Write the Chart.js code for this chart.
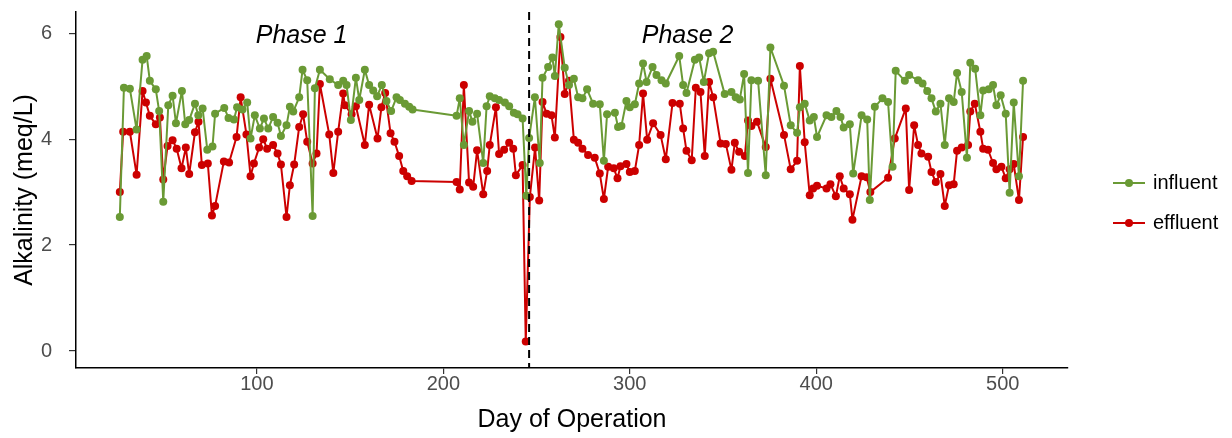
<!DOCTYPE html>
<html>
<head>
<meta charset="utf-8">
<script src="https://cdn.jsdelivr.net/npm/chart.js@4/dist/chart.umd.min.js"></script>
<style>
  html, body { margin: 0; padding: 0; background: #fff; }
  #wrap { width: 1232px; height: 438px; }
</style>
</head>
<body>
<div id="wrap"><canvas id="chart" width="1232" height="438"></canvas></div>
<script>
// values (day, meq/L)
const influentDays = [
  26.5, 28.7, 31.9, 35.5, 38.7, 40.9, 42.6, 45.8, 47.6, 49.8, 52.5, 54.8, 56.6, 59.8, 61.6, 63.7,
  66.8, 68.6, 70.9, 73.4, 76.2, 77.6, 82.5, 84.8, 87.7, 89.4, 92.3, 94.8, 96.6, 98.9, 101.6, 103.8,
  106.1, 108.7, 111.1, 112.9, 115.9, 117.7, 119.5, 122.7, 124.5, 127, 129.9, 131.1, 133.8, 139.1,
  143.6, 146.3, 148.1, 150.4, 153.1, 154.9, 157.9, 160.2, 162.4, 164.5, 167, 169.5, 172, 174.9,
  176.7, 179.4, 181.7, 183.5, 207.1, 208.8, 211, 213.8, 215.6, 218.1, 221.4, 223.2, 224.9, 227.6,
  229.9, 233, 235.3, 237.8, 239.8, 242.5, 244.5, 246, 249.1, 251.7, 253.2, 256.2, 258.5, 259.8,
  261.9, 265.1, 267.4, 270, 272.3, 274.6, 277.1, 280.3, 283.9, 286.1, 287.8, 292, 293.7, 295.5,
  298.2, 300, 302.7, 305, 307.1, 309, 312.2, 314.3, 317, 319.3, 326.5, 328.6, 330.4, 334.9, 337.2,
  339.7, 342.5, 344.7, 350.9, 354.5, 356.8, 359, 361.3, 363.4, 365.2, 368.8, 372.9, 375.4, 382.7,
  386.3, 389.7, 391.2, 393.8, 396.5, 398.7, 400.4, 405.5, 408.1, 410.8, 413, 414.7, 418, 419.8,
  424.3, 427.3, 428.7, 431.4, 435.5, 438.5, 440.9, 442.6, 447.5, 449.8, 454.6, 457, 459.5, 461.8,
  464.1, 466.6, 468.9, 471.2, 473.7, 475.5, 478, 480.8, 482.6, 485.2, 488, 489.5, 492.5, 494.8,
  496.6, 498.9, 501.6, 503.7, 505.9, 508.7, 510.9
];
const influentVals = [
  2.53, 4.97, 4.95, 4.18, 5.5, 5.57, 5.1, 4.94, 4.53, 2.82, 4.64, 4.82, 4.3, 4.91, 4.28, 4.36,
  4.67, 4.45, 4.58, 3.8, 3.86, 4.48, 4.59, 4.4, 4.37, 4.6, 4.56, 4.69, 4.01, 4.45, 4.2, 4.39,
  4.2, 4.42, 4.31, 4.06, 4.26, 4.61, 4.52, 4.79, 5.31, 5.11, 2.55, 4.96, 5.31, 5.13,
  5.02, 5.1, 5.02, 4.36, 5.16, 4.74, 5.31, 5.02, 4.92, 4.81, 5.02, 4.72, 4.53, 4.79,
  4.74, 4.67, 4.61, 4.56, 4.44, 4.77, 3.89, 4.53, 4.33, 4.48, 3.55, 4.62, 4.81, 4.77,
  4.74, 4.69, 4.62, 4.5, 4.47, 4.39, 2.93, 4.02, 4.79, 3.55, 5.16, 5.36, 5.54, 5.19,
  6.17, 5.35, 5.02, 5.14, 4.79, 4.77, 4.94, 4.67, 4.66, 3.59, 4.47, 4.5, 4.23, 4.25,
  4.72, 4.6, 4.66, 5.05, 5.43, 5.08, 5.36, 5.21, 5.11, 5.05, 5.57, 5.02, 4.87, 5.5, 5.54,
  5.08, 5.62, 5.65, 4.85, 4.89, 4.79, 4.75, 5.23, 3.36, 5.11, 5.1, 3.32, 5.73, 5.01,
  4.26, 4.12, 4.6, 4.67, 4.35, 4.42, 4.04, 4.45, 4.42, 4.53, 4.42, 4.22, 4.28, 3.35,
  4.45, 4.37, 2.85, 4.61, 4.77, 4.7, 3.48, 5.29, 5.1, 5.21, 5.11, 5.05, 4.91, 4.77,
  4.52, 4.67, 3.89, 4.77, 4.7, 5.25, 4.89, 3.65, 5.44, 5.33, 4.45, 4.92, 4.94, 5.02,
  4.64, 4.83, 4.48, 2.99, 4.69, 3.3, 5.1
];

const effluentDays = [
  26.5, 28.3, 31.9, 35.5, 38.7, 40.5, 42.6, 45.8, 48, 49.8, 52.1, 54.8, 57, 59.6, 61.9, 63.7,
  66.8, 68.7, 70.5, 73.7, 75.9, 77.6, 82.3, 85.1, 89.1, 91.3, 94.4, 96.6, 98.4, 101.2, 103.4,
  105.5, 108.7, 111.1, 112.9, 115.9, 117.7, 120, 122.7, 124.8, 127, 129.9, 132, 133.8, 138.8,
  141, 143.6, 146.3, 147.2, 150.8, 153.1, 157.9, 160.2, 164.7, 166.8, 168.8, 171.7, 173.8,
  176.3, 178.5, 180.6, 183, 207.1, 208.8, 211, 213.8, 216, 218.1, 221.4, 223.5, 224.9, 228.2,
  229.9, 232.6, 235.3, 237.5, 238.9, 242.5, 244.2, 246.4, 249.2, 251.4, 253.2, 255.4, 258,
  259.8, 262.8, 265.1, 267.4, 270, 272.3, 274.6, 277.6, 281.2, 283.9, 286.1, 288.4, 291.4,
  293.4, 295, 298.2, 300, 302.7, 305, 307.1, 309.3, 312.5, 316.5, 319.3, 322.9, 326.8, 328.6,
  330.4, 333.2, 335.4, 337.9, 340.2, 342.5, 344.7, 348.7, 351.5, 354.5, 356.3, 358.6, 361.7,
  363.4, 365.2, 368.2, 372.9, 375.4, 382.7, 386.3, 389.7, 391.2, 393.8, 396.5, 398.3, 400.4,
  405.5, 407.6, 410.5, 412.6, 414.7, 418, 419.4, 424.3, 427, 429, 438.5, 442.1, 448, 449.8,
  452.5, 454.6, 456.4, 460, 461.8, 464.1, 466.6, 468.9, 471.2, 473.7, 475.5, 478, 481.4,
  482.6, 485, 488, 489.5, 492.1, 494.8, 496.6, 499.3, 501.6, 503.7, 505.9, 508.7, 510.9
];
const effluentVals = [
  3.0, 4.14, 4.14, 3.33, 4.91, 4.69, 4.44, 4.28, 4.41, 3.24, 3.87, 3.98, 3.82, 3.45, 3.84, 3.34,
  4.13, 4.33, 3.51, 3.54, 2.56, 2.74, 3.58, 3.56, 4.04, 4.79, 4.09, 3.3, 3.54, 3.84, 4.0,
  3.82, 3.89, 3.73, 3.52, 2.53, 3.13, 3.52, 4.23, 4.47, 3.95, 3.54, 3.73, 5.04, 4.09,
  3.36, 4.14, 4.86, 4.64, 4.47, 4.62, 3.89, 4.65, 4.01, 4.6, 4.87, 4.11, 3.95,
  3.68, 3.4, 3.3, 3.21, 3.19, 3.05, 5.02, 3.18, 3.1, 3.79, 2.96, 3.4, 3.89, 4.6,
  3.72, 3.8, 3.93, 3.82, 3.32, 3.51, 0.18, 2.91, 3.84, 2.84, 4.7, 4.48, 4.45,
  4.03, 5.93, 4.85, 5.1, 3.99, 3.93, 3.82, 3.7, 3.65, 3.35, 2.87, 3.48, 3.45,
  3.26, 3.49, 3.53, 3.38, 3.4, 3.89, 4.86, 3.99, 4.3, 4.08, 3.62, 4.68, 4.67, 4.2,
  3.78, 3.6, 4.97, 4.89, 3.68, 5.08, 4.79, 3.92, 3.91, 3.42, 3.93, 3.76, 3.68,
  4.35, 4.25, 4.33, 3.85, 5.14, 4.08, 3.43, 3.59, 5.38, 3.94, 2.94, 3.07, 3.12,
  3.07, 3.15, 2.92, 3.3, 3.07, 2.96, 2.48, 3.3, 3.28, 3.0, 3.27, 4.01, 4.58, 3.04,
  4.26, 3.89, 3.73, 3.67, 3.38, 3.19, 3.34, 2.74, 3.13, 3.15, 3.78, 3.84, 3.89,
  4.52, 4.67, 4.14, 3.82, 3.8, 3.55, 3.43, 3.48, 3.26, 3.43, 3.53, 2.85, 4.04
];

const xTicks = [100, 200, 300, 400, 500];
const yTicks = [0, 2, 4, 6];
const phaseBreakDay = 246;
const phaseLabels = ['Phase 1', 'Phase 2'];
const phaseLabelDays = [124, 331];
const seriesNames = ['influent', 'effluent'];

const GREEN = '#6a9a35';
const RED = '#cc0000';
const FONT = "'Liberation Sans', Arial, sans-serif";

function toPoints(days, vals) {
  return days.map((d, i) => ({ x: d, y: vals[i] }));
}

// keep the plot panel exactly where the layout padding puts it
function fixScaleBox(s, size) {
  if (s.isHorizontal()) s.height = size; else s.width = size;
  s.paddingTop = 0;
  s.paddingBottom = 0;
  s.paddingLeft = 0;
  s.paddingRight = 0;
}

// dashed phase separator + italic phase labels
const phasePlugin = {
  id: 'phases',
  afterDatasetsDraw(chart) {
    const { ctx, chartArea, scales: { x, y } } = chart;
    ctx.save();
    const px = x.getPixelForValue(phaseBreakDay);
    ctx.strokeStyle = '#000';
    ctx.lineWidth = 2;
    ctx.setLineDash([8, 5]);
    ctx.beginPath();
    ctx.moveTo(px, chartArea.top);
    ctx.lineTo(px, chartArea.bottom);
    ctx.stroke();
    ctx.setLineDash([]);

    ctx.fillStyle = '#000';
    ctx.font = `italic 25px ${FONT}`;
    ctx.textAlign = 'center';
    ctx.textBaseline = 'middle';
    phaseLabels.forEach((t, i) => {
      ctx.fillText(t, x.getPixelForValue(phaseLabelDays[i]), y.getPixelForValue(5.94));
    });
    ctx.restore();
  }
};

// ggplot-style legend on the right
const legendPlugin = {
  id: 'sideLegend',
  afterDraw(chart) {
    const { ctx } = chart;
    const colors = [GREEN, RED];
    ctx.save();
    ctx.font = `20px ${FONT}`;
    ctx.textBaseline = 'middle';
    ctx.textAlign = 'left';
    seriesNames.forEach((name, i) => {
      const cy = 183 + i * 40;
      ctx.strokeStyle = colors[i];
      ctx.fillStyle = colors[i];
      ctx.lineWidth = 2;
      ctx.beginPath();
      ctx.moveTo(1113, cy);
      ctx.lineTo(1145, cy);
      ctx.stroke();
      ctx.beginPath();
      ctx.arc(1129, cy, 4, 0, Math.PI * 2);
      ctx.fill();
      ctx.fillStyle = '#000';
      ctx.fillText(name, 1153, cy);
    });
    ctx.restore();
  }
};

const lineDataset = (label, data, color) => ({
  label,
  data,
  showLine: true,
  borderColor: color,
  backgroundColor: color,
  borderWidth: 2,
  borderJoinStyle: 'round',
  borderCapStyle: 'round',
  pointRadius: 4,
  pointBorderWidth: 0,
  pointHoverRadius: 4,
  tension: 0,
});

new Chart(document.getElementById('chart'), {
  type: 'scatter',
  data: {
    datasets: [
      lineDataset(seriesNames[0], toPoints(influentDays, influentVals), GREEN),
      lineDataset(seriesNames[1], toPoints(effluentDays, effluentVals), RED),
    ],
  },
  options: {
    responsive: false,
    animation: false,
    devicePixelRatio: 1,
    layout: { padding: { top: 12, right: 164, left: 0, bottom: 0 } },
    plugins: { legend: { display: false }, tooltip: { enabled: false } },
    scales: {
      x: {
        type: 'linear',
        min: 3,
        max: 535,
        afterBuildTicks: (s) => { s.ticks = xTicks.map((v) => ({ value: v })); },
        afterFit: (s) => fixScaleBox(s, 70),
        grid: { drawOnChartArea: false, drawTicks: true, tickLength: 6, color: '#333', lineWidth: 1.2 },
        border: { display: true, color: '#000', width: 1.5 },
        ticks: { color: '#4d4d4d', font: { family: FONT, size: 20, lineHeight: 1 }, padding: 0, maxRotation: 0 },
        title: {
          display: true,
          text: 'Day of Operation',
          color: '#000',
          font: { family: FONT, size: 25 },
          padding: { top: 0, bottom: 3 },
        },
      },
      y: {
        type: 'linear',
        min: -0.32,
        max: 6.4,
        afterBuildTicks: (s) => { s.ticks = yTicks.map((v) => ({ value: v })); },
        afterFit: (s) => fixScaleBox(s, 76),
        grid: { drawOnChartArea: false, drawTicks: true, tickLength: 7, color: '#333', lineWidth: 1.2 },
        border: { display: true, color: '#000', width: 1.5 },
        ticks: { color: '#4d4d4d', font: { family: FONT, size: 20 }, padding: 17 },
        title: {
          display: true,
          text: 'Alkalinity (meq/L)',
          color: '#000',
          font: { family: FONT, size: 25 },
          padding: { top: 10, bottom: 0 },
        },
      },
    },
  },
  plugins: [phasePlugin, legendPlugin],
});
</script>
</body>
</html>
